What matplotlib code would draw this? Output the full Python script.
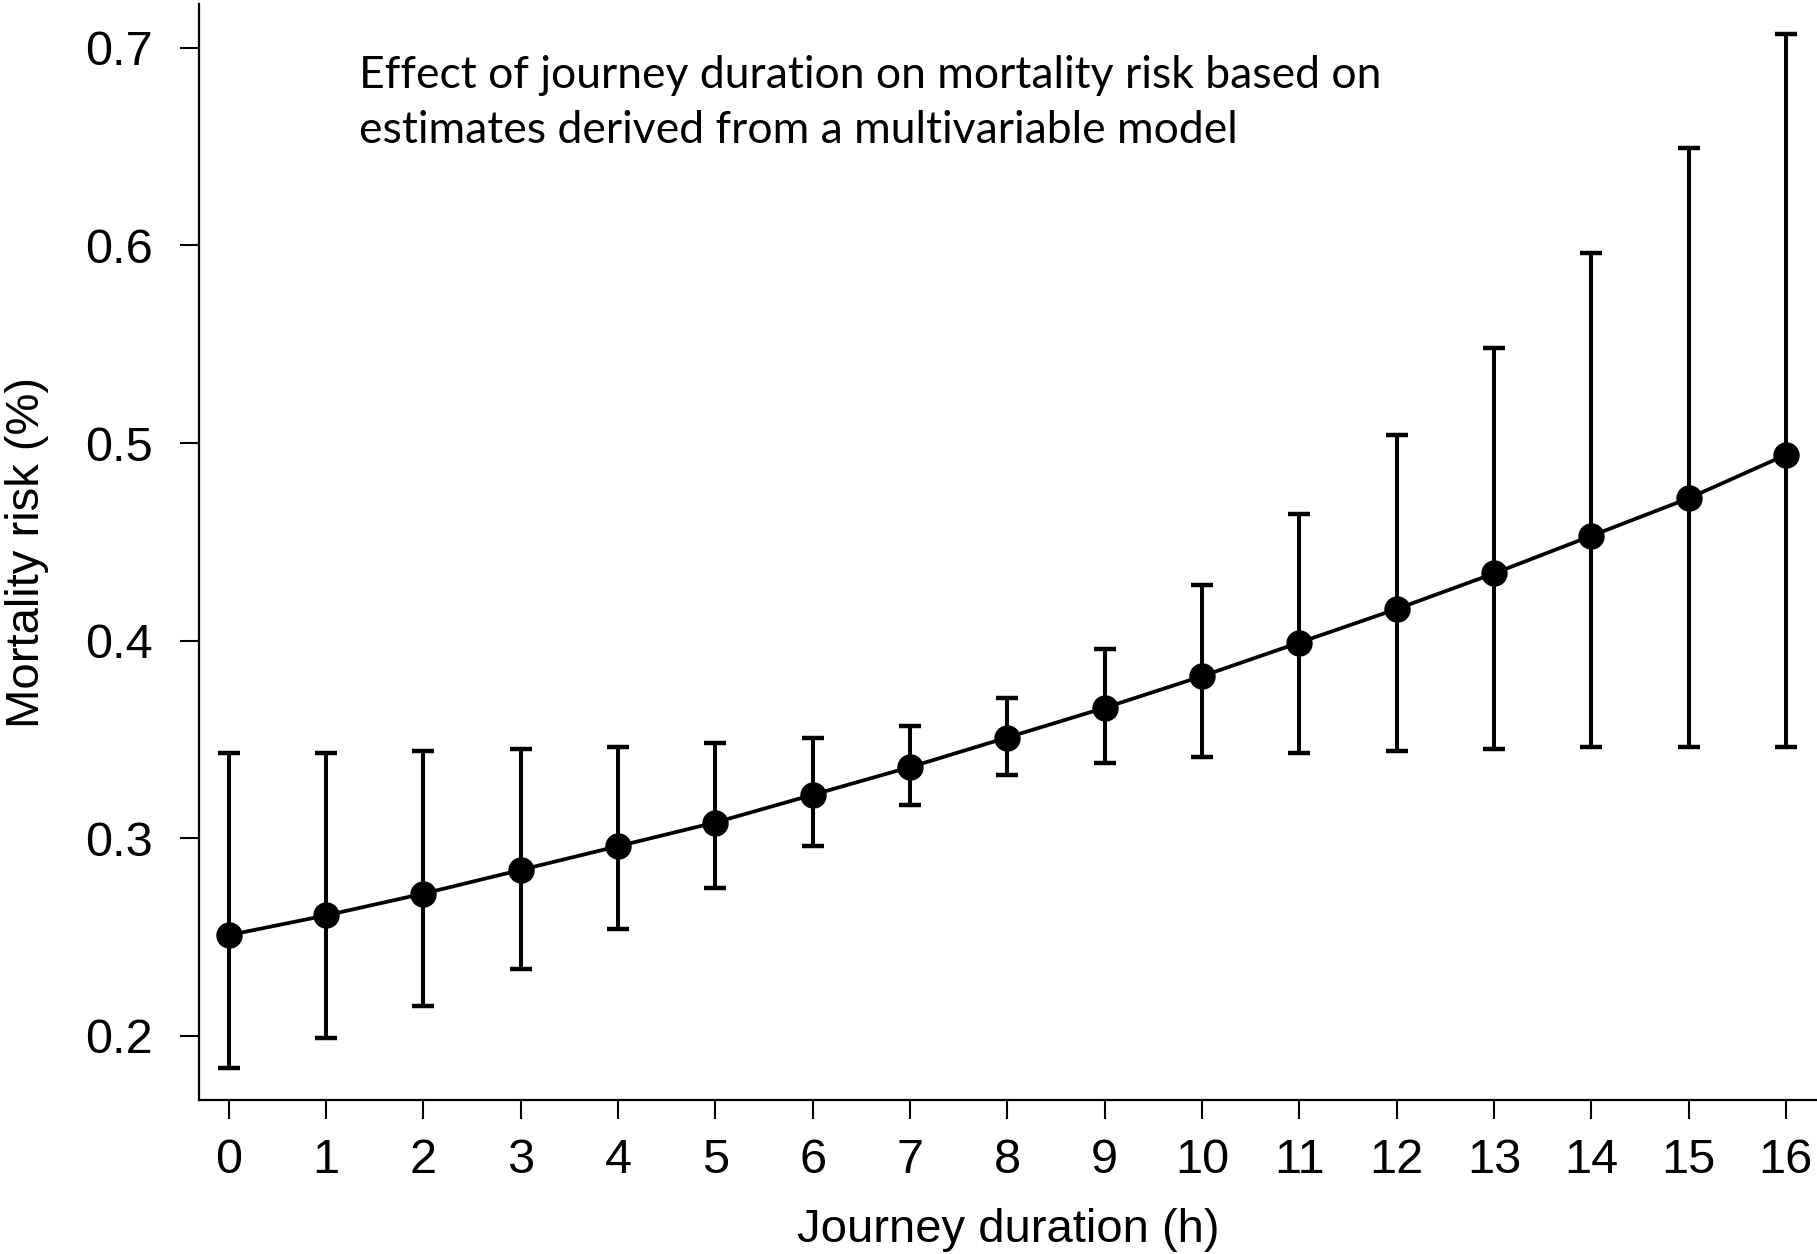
import numpy as np
import matplotlib
matplotlib.use('Agg')
import matplotlib.pyplot as plt

# Journey duration (hours) and estimated mortality risk (%) with confidence limits
hours = np.arange(0, 17)
risk = [0.251, 0.261, 0.272, 0.284, 0.296, 0.308, 0.322, 0.336, 0.351,
        0.366, 0.382, 0.399, 0.416, 0.434, 0.453, 0.472, 0.494]
lower = [0.184, 0.199, 0.215, 0.234, 0.254, 0.275, 0.296, 0.317, 0.332,
         0.338, 0.341, 0.343, 0.344, 0.345, 0.346, 0.346, 0.346]
upper = [0.343, 0.343, 0.344, 0.345, 0.346, 0.348, 0.351, 0.357, 0.371,
         0.396, 0.428, 0.464, 0.504, 0.548, 0.596, 0.649, 0.707]

yticks = [0.2, 0.3, 0.4, 0.5, 0.6, 0.7]
note = ('Effect of journey duration on mortality risk based on\n'
        'estimates derived from a multivariable model')

plt.rcParams['font.family'] = ['Liberation Sans', 'DejaVu Sans']

fig = plt.figure(figsize=(18.17, 12.54), dpi=100)
ax = fig.add_axes([0.1095, 0.1228, 0.8905, 0.874])

risk = np.array(risk)
yerr = [risk - np.array(lower), np.array(upper) - risk]

ax.errorbar(hours, risk, yerr=yerr, fmt='none', ecolor='black',
            elinewidth=2.9, capsize=8, capthick=3.2)
ax.plot(hours, risk, color='black', linewidth=2.7, marker='o',
        markersize=18, zorder=3)

ax.set_xlim(-0.305, 16.32)
ax.set_ylim(0.1676, 0.7221)
ax.set_xticks(hours)
ax.set_yticks(yticks)
ax.set_yticklabels([f'{v:.1f}' for v in yticks])

for side in ['top', 'right']:
    ax.spines[side].set_visible(False)
for side in ['left', 'bottom']:
    ax.spines[side].set_linewidth(1.6)

ax.tick_params(axis='both', labelsize=35, length=13.5, width=1.5)
ax.tick_params(axis='x', pad=14)
ax.tick_params(axis='y', pad=20)

ax.set_xlabel('Journey duration (h)', fontsize=34, labelpad=18)
ax.set_ylabel('Mortality risk (%)', fontsize=34, labelpad=26)

ax.text(0.099, 0.910, note, transform=ax.transAxes, fontsize=32,
        family='Lato', va='center', ha='left', linespacing=1.42)

fig.savefig('out.png', dpi=100)
